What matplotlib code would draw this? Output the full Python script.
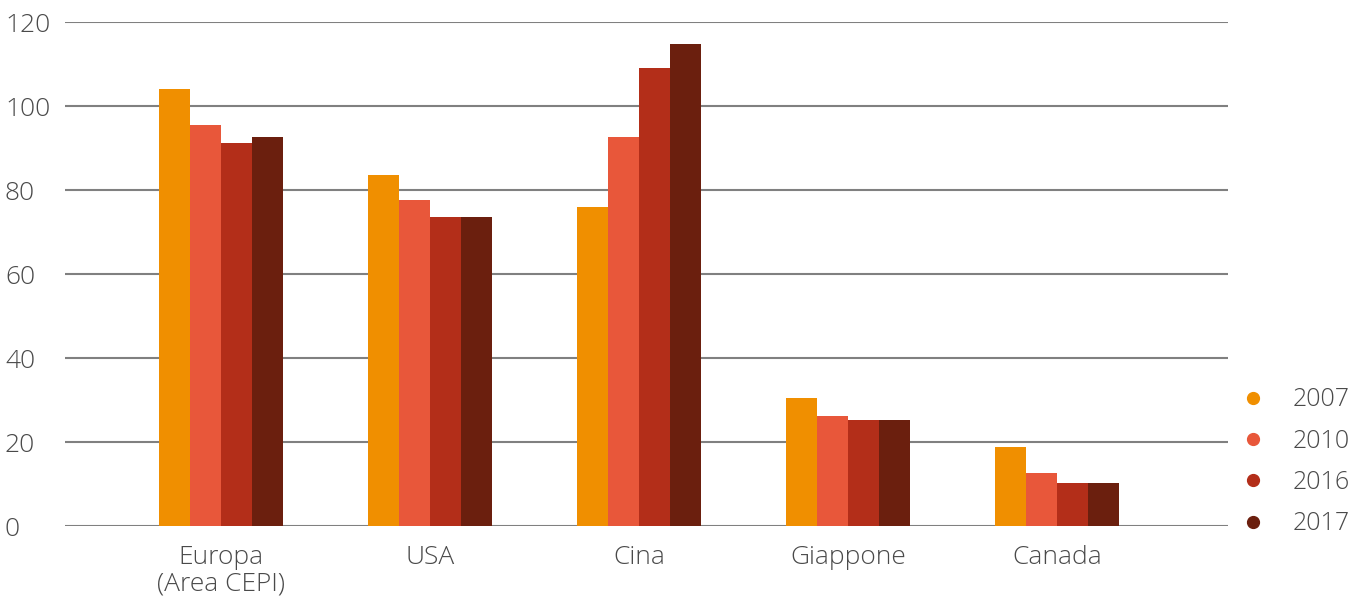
import matplotlib
matplotlib.use("Agg")
import matplotlib.pyplot as plt
import matplotlib.transforms as mtrans
from matplotlib.lines import Line2D
import numpy as np

categories = ["Europa\n(Area CEPI)", "USA", "Cina", "Giappone", "Canada"]
years = ["2007", "2010", "2016", "2017"]
v2007 = [104.0, 83.6, 76.0, 30.5, 18.8]
v2010 = [95.5, 77.6, 92.6, 26.2, 12.6]
v2016 = [91.2, 73.6, 109.0, 25.2, 10.2]
v2017 = [92.6, 73.6, 114.8, 25.2, 10.2]
series = [v2007, v2010, v2016, v2017]
colors = ["#F08F00", "#E8573A", "#B32E19", "#6B1F0E"]
yticks = [0, 20, 40, 60, 80, 100, 120]

plt.rcParams['font.family'] = ['Open Sans', 'DejaVu Sans']
plt.rcParams['font.weight'] = 'light'
txt = "#4a4a4a"

W, H = 1363, 597
fig = plt.figure(figsize=(W/100, H/100), dpi=100)
ax = fig.add_axes([65/W, (H-526)/H, (1228-65)/W, (526-22)/H])

x = np.arange(len(categories))
bw = 0.148
for i, (vals, c) in enumerate(zip(series, colors)):
    ax.bar(x + (i - 1.5) * bw, vals, width=bw, color=c, zorder=3, label=years[i])

ax.set_xlim(-0.746, 4.818)
ax.set_ylim(0, 120)
ax.set_yticks(yticks)
ax.set_yticklabels([str(t) for t in yticks])
ax.set_xticks(x)
ax.set_xticklabels(categories, linespacing=1.05)
ax.grid(axis='y', color='#808080', linewidth=1.5, zorder=0)
for s in ax.spines.values():
    s.set_visible(False)
ax.tick_params(axis='both', length=0, labelsize=19, colors=txt)
ax.tick_params(axis='x', pad=14)
ax.tick_params(axis='y', pad=0)
for lab in ax.get_yticklabels():
    lab.set_horizontalalignment('left')
    lab.set_transform(mtrans.blended_transform_factory(fig.transFigure, ax.transData))
    lab.set_x(5/W)

handles = [Line2D([0], [0], marker='o', linestyle='', markersize=8.5,
                  markerfacecolor=c, markeredgecolor=c) for c in colors]
leg = fig.legend(handles, years, loc='upper left', bbox_to_anchor=(1228/W, 1 - 375/H),
                 frameon=False, fontsize=18, labelcolor=txt, handletextpad=1.1,
                 labelspacing=0.65, handlelength=1.0, borderpad=0)

fig.savefig("out.png", dpi=100)
